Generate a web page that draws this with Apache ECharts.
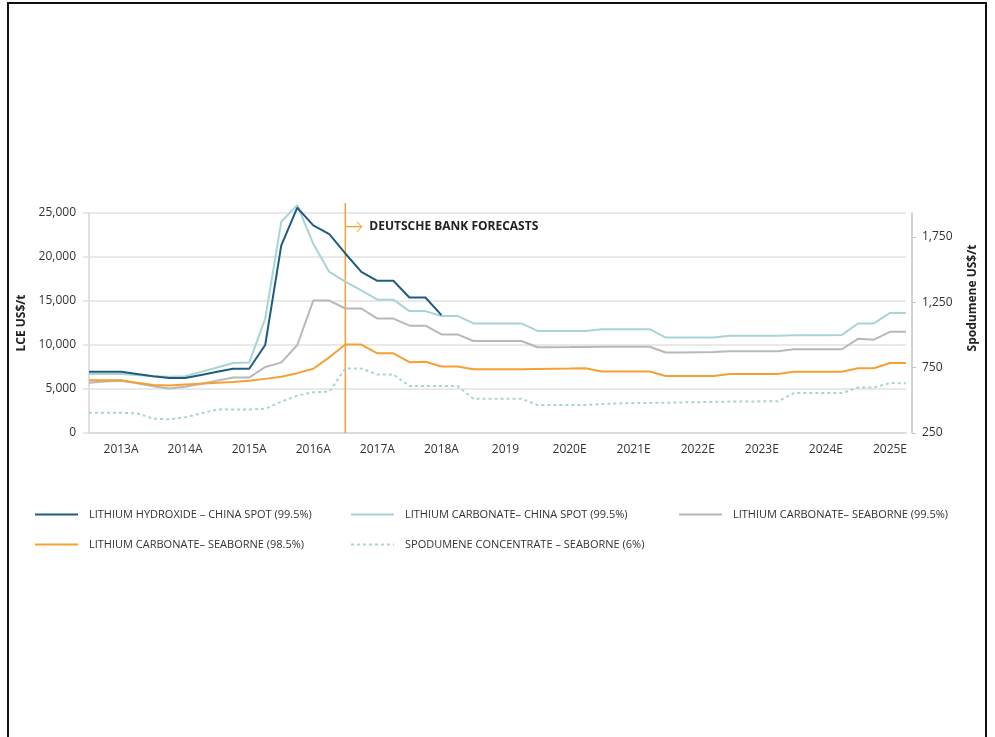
<!DOCTYPE html>
<html>
<head>
<meta charset="utf-8">
<script src="https://cdn.jsdelivr.net/npm/echarts@6/dist/echarts.min.js"></script>
<style>
  html, body { margin: 0; padding: 0; background: #fff; overflow: hidden; }
  #chart { position: absolute; left: 0; top: 0; width: 995px; height: 737px; }
  #frame { position: absolute; left: 7px; top: 2px; width: 980px; height: 800px; border: 2px solid #111; box-sizing: border-box; pointer-events: none; }
</style>
</head>
<body>
<div id="chart"></div>
<div id="frame"></div>
<script>
// Quarterly points, 2013 Q1 .. 2025 Q4
const years = [2013, 2014, 2015, 2016, 2017, 2018, 2019, 2020, 2021, 2022, 2023, 2024, 2025];
const yearLabels = ['2013A', '2014A', '2015A', '2016A', '2017A', '2018A', '2019', '2020E', '2021E', '2022E', '2023E', '2024E', '2025E'];
const quarters = [];
years.forEach(y => { for (let q = 1; q <= 4; q++) quarters.push('Q' + q + ' ' + y); });

const seriesNames = [
  'LITHIUM HYDROXIDE – CHINA SPOT (99.5%)',
  'LITHIUM CARBONATE– CHINA SPOT (99.5%)',
  'LITHIUM CARBONATE– SEABORNE (99.5%)',
  'LITHIUM CARBONATE– SEABORNE (98.5%)',
  'SPODUMENE CONCENTRATE – SEABORNE (6%)'
];

const hydroxideChina = [
  6950, 6950, 6950, 6700, 6450, 6250, 6250, 6600, 6950, 7300, 7300, 10000,
  21300, 25600, 23600, 22600, 20400, 18300, 17300, 17300, 15400, 15400, 13400,
  null, null, null, null, null, null, null, null, null, null, null, null, null,
  null, null, null, null, null, null, null, null, null, null, null, null, null,
  null, null, null
];
const carbonateChina = [
  6700, 6700, 6700, 6600, 6450, 6400, 6450, 6950, 7450, 7950, 8000, 13000,
  24000, 25900, 21500, 18300, 17200, 16200, 15150, 15150, 13850, 13850, 13300, 13300,
  12450, 12450, 12450, 12450, 11600, 11600, 11600, 11600, 11800, 11800, 11800, 11800,
  10850, 10850, 10850, 10850, 11050, 11050, 11050, 11050, 11100, 11100, 11100, 11150,
  12450, 12450, 13650, 13650
];
const carbonateSeaborne995 = [
  5700, 5850, 5950, 5650, 5300, 5050, 5250, 5600, 5950, 6300, 6300, 7500,
  8000, 10000, 15050, 15050, 14150, 14150, 13000, 13000, 12200, 12200, 11200, 11200,
  10450, 10450, 10450, 10450, 9750, 9750, 9760, 9780, 9800, 9800, 9800, 9800,
  9150, 9150, 9180, 9200, 9280, 9280, 9280, 9280, 9520, 9520, 9520, 9520,
  10700, 10600, 11500, 11500
];
const carbonateSeaborne985 = [
  6000, 6000, 6000, 5700, 5450, 5400, 5500, 5600, 5700, 5800, 5950, 6150,
  6400, 6800, 7300, 8600, 10050, 10050, 9050, 9050, 8050, 8100, 7550, 7550,
  7250, 7250, 7250, 7250, 7280, 7300, 7320, 7350, 6980, 6980, 6980, 6980,
  6480, 6480, 6480, 6480, 6700, 6700, 6700, 6700, 6970, 6970, 6970, 6970,
  7350, 7350, 7950, 7950
];
const spodumeneSeaborne = [
  405, 405, 405, 400, 360, 355, 370, 400, 430, 430, 430, 435,
  490, 535, 562, 566, 744, 744, 698, 698, 609, 609, 609, 609,
  512, 512, 512, 512, 464, 464, 464, 464, 472, 476, 478, 480,
  482, 484, 486, 488, 490, 490, 492, 492, 555, 555, 555, 555,
  598, 598, 632, 630
];

const leftTicks = { min: 0, max: 25000, interval: 5000 };
const rightTicks = { min: 250, max: 1932, interval: 500 };
const forecastStart = 'Q1 2017';
const forecastArrowEnd = 'Q2 2017';
const forecastText = 'DEUTSCHE BANK FORECASTS';

const colors = ['#1f5d7f', '#a9d4d6', '#b8b8b8', '#f5a033', '#a9d4d6'];
const FONT = '"Open Sans", "Noto Sans", sans-serif';

const chart = echarts.init(document.getElementById('chart'), null, { renderer: 'canvas' });

const fmt = v => v.toLocaleString('en-US');

const mkLine = (name, data, color, extra) => Object.assign({
  name: name, type: 'line', data: data, symbol: 'none', showSymbol: false,
  lineStyle: { color: color, width: 2 }, itemStyle: { color: color },
  connectNulls: false, animation: false, clip: false, z: 3
}, extra || {});

const legendPos = [
  { left: 34, top: 509 }, { left: 350, top: 509 }, { left: 678, top: 509 },
  { left: 34, top: 539 }, { left: 350, top: 539 }
];

const chevron = 'path://M0,0 L2.2,0 L11,9 L2.2,18 L0,18 L8.8,9 Z';

const option = {
  backgroundColor: '#fff',
  animation: false,
  textStyle: { fontFamily: FONT },
  legend: seriesNames.map((n, i) => ({
    data: [n], left: legendPos[i].left, top: legendPos[i].top, padding: 0,
    itemWidth: 43, itemHeight: 14, selectedMode: false,
    itemStyle: { opacity: 0 },
    textStyle: { fontSize: 11, color: '#333', fontFamily: FONT, padding: [0, 0, 0, 6] }
  })),
  grid: { left: 89, right: 89, top: 213, bottom: 304, containLabel: false },
  xAxis: {
    type: 'category', data: quarters, boundaryGap: false,
    axisLine: { show: true, lineStyle: { color: '#d6d6d6', width: 1.5 } },
    axisTick: { show: false },
    splitLine: { show: false },
    axisLabel: {
      interval: (idx) => idx % 4 === 2,
      formatter: (v, idx) => yearLabels[Math.floor(idx / 4)],
      color: '#333', fontSize: 12, margin: 11, fontFamily: FONT
    }
  },
  yAxis: [
    {
      type: 'value', min: leftTicks.min, max: leftTicks.max, interval: leftTicks.interval,
      name: 'LCE US$/t', nameLocation: 'middle', nameGap: 60,
      nameTextStyle: { fontWeight: 'bold', fontSize: 12, color: '#222', fontFamily: FONT },
      axisLine: { show: true, lineStyle: { color: '#d6d6d6', width: 1.5 } },
      axisTick: { show: true, length: 6, lineStyle: { color: '#e2e2e2', width: 1.5 } },
      splitLine: { show: true, lineStyle: { color: '#e2e2e2', width: 1.5 } },
      axisLabel: { formatter: fmt, color: '#333', fontSize: 12, margin: 13, fontFamily: FONT }
    },
    {
      type: 'value', min: rightTicks.min, max: rightTicks.max, interval: rightTicks.interval,
      position: 'right', offset: 6,
      name: 'Spodumene US$/t', nameLocation: 'middle', nameGap: 55,
      nameTextStyle: { fontWeight: 'bold', fontSize: 12, color: '#222', fontFamily: FONT, padding: [0, 0, 0, 50] },
      axisLine: { show: true, lineStyle: { color: '#c4c4c4', width: 1.5 } },
      axisTick: { show: true, length: 4, lineStyle: { color: '#c4c4c4' } },
      splitLine: { show: false },
      axisLabel: { formatter: fmt, color: '#333', fontSize: 12, margin: 10, showMaxLabel: false, fontFamily: FONT }
    }
  ],
  series: [
    mkLine(seriesNames[0], hydroxideChina, colors[0], { z: 6 }),
    mkLine(seriesNames[1], carbonateChina, colors[1], { z: 5 }),
    mkLine(seriesNames[2], carbonateSeaborne995, colors[2], { z: 4 }),
    mkLine(seriesNames[3], carbonateSeaborne985, colors[3], { z: 4 }),
    mkLine(seriesNames[4], spodumeneSeaborne, colors[4], {
      yAxisIndex: 1, z: 3, lineStyle: { color: colors[4], width: 2, type: [3, 3] }
    }),
    {
      name: 'forecast-divider', type: 'line', clip: false, silent: true, animation: false,
      symbol: 'none', z: 2,
      lineStyle: { color: '#f5a033', width: 1.5 },
      data: [[forecastStart, 0], [forecastStart, 26150]]
    },
    {
      name: 'forecast-arrow', type: 'line', clip: false, silent: true, animation: false,
      z: 7, showSymbol: true,
      lineStyle: { color: '#f5a033', width: 1.3 },
      itemStyle: { color: '#f5a033' },
      data: [
        { value: [forecastStart, 23450], symbol: 'none' },
        { value: [forecastArrowEnd, 23450], symbol: chevron, symbolSize: [6, 10], symbolOffset: [-2, 0],
          label: { show: true, position: 'right', distance: 7, formatter: forecastText,
                   fontWeight: 'bold', fontSize: 12, color: '#222', fontFamily: FONT } }
      ]
    }
  ]
};

chart.setOption(option);
</script>
</body>
</html>
